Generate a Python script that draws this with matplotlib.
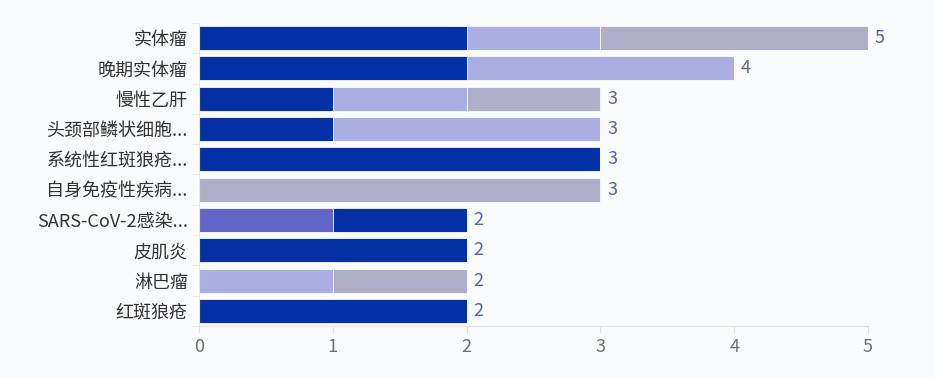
import matplotlib
matplotlib.use("Agg")
import matplotlib.pyplot as plt
import numpy as np

plt.rcParams['font.family'] = ['Noto Sans CJK SC', 'DejaVu Sans']

categories = ["实体瘤", "晚期实体瘤", "慢性乙肝", "头颈部鳞状细胞...", "系统性红斑狼疮...",
              "自身免疫性疾病...", "SARS-CoV-2感染...", "皮肌炎", "淋巴瘤", "红斑狼疮"]
series_purple = [0, 0, 0, 0, 0, 0, 1, 0, 0, 0]
series_dark = [2, 2, 1, 1, 3, 0, 1, 2, 0, 2]
series_light = [1, 2, 1, 2, 0, 0, 0, 0, 1, 0]
series_gray = [2, 0, 1, 0, 0, 3, 0, 0, 1, 0]
x_ticks = [0, 1, 2, 3, 4, 5]

colors = ["#6164C8", "#0331A5", "#ABAEE0", "#AEAFC6"]
series = [series_purple, series_dark, series_light, series_gray]

bg = "#FAFBFD"
fig = plt.figure(figsize=(9.35, 3.77), dpi=100, facecolor=bg)
ax = fig.add_axes([0.2128, 0.1353, 0.7155, 0.8037], facecolor=bg)

y = np.arange(len(categories))
left = np.zeros(len(categories))
for vals, c in zip(series, colors):
    v = np.array(vals, dtype=float)
    ax.barh(y, v, left=left, height=0.79, color=c, edgecolor=bg, linewidth=0.6)
    left += v

for yi, tot in zip(y, left):
    ax.text(tot + 0.05, yi, f"{int(tot)}", va="center", ha="left",
            fontsize=13, color="#5A62AE")

ax.set_ylim(len(categories) - 0.5, -0.5)
ax.set_xlim(0, 5)
ax.set_xticks(x_ticks)
ax.set_xticklabels([str(t) for t in x_ticks])
ax.set_yticks(y)
ax.set_yticklabels(categories)
ax.set_yticks(np.arange(len(categories) + 1) - 0.5, minor=True)

for s in ["top", "right"]:
    ax.spines[s].set_visible(False)
ax.spines["bottom"].set_color("#DDE2EE")
ax.spines["left"].set_color("#E6E9F2")
ax.spines["left"].set_linewidth(0.8)

ax.tick_params(axis="x", colors="#DDE2EE", labelcolor="#6E7079", labelsize=13,
               length=5, pad=4)
ax.tick_params(axis="y", which="major", length=0, labelcolor="#333333",
               labelsize=13, pad=8)
ax.tick_params(axis="y", which="minor", length=5, color="#E6E9F2")

fig.savefig("out.png", dpi=100, facecolor=bg)
